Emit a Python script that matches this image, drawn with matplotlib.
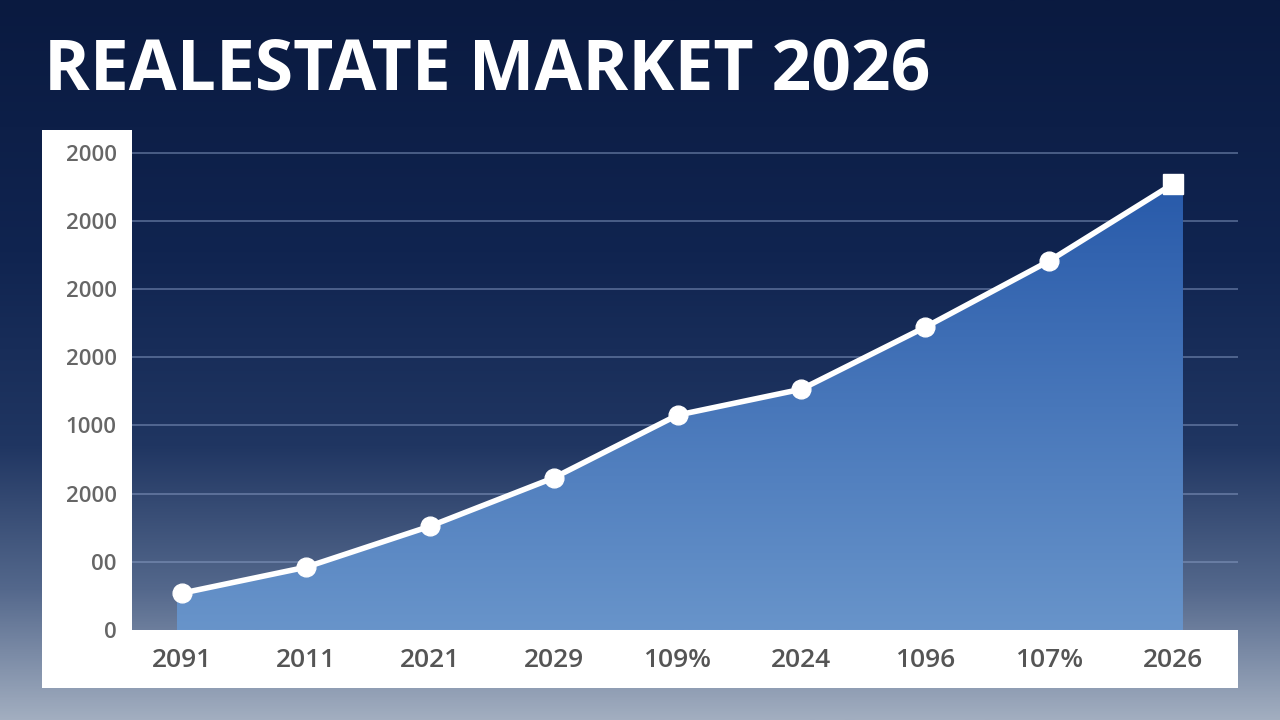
import numpy as np
import matplotlib
matplotlib.use('Agg')
import matplotlib.pyplot as plt
from matplotlib.colors import LinearSegmentedColormap
from matplotlib.patches import Rectangle, Polygon

# data
x_labels = ['2091', '2011', '2021', '2029', '109%', '2024', '1096', '107%', '2026']
values = [540, 920, 1520, 2230, 3150, 3530, 4440, 5410, 6540]
y_ticks = [0, 1000, 2000, 3000, 4000, 5000, 6000, 7000]
y_labels = ['0', '00', '2000', '1000', '2000', '2000', '2000', '2000']

W, H = 1280, 720
fig = plt.figure(figsize=(12.8, 7.2), dpi=100)

# background gradient
bg = fig.add_axes([0, 0, 1, 1])
bg_cmap = LinearSegmentedColormap.from_list('bg', [
    (0.0, (10/255, 26/255, 64/255)),
    (0.35, (16/255, 36/255, 80/255)),
    (0.62, (32/255, 54/255, 98/255)),
    (0.82, (84/255, 104/255, 140/255)),
    (1.0, (162/255, 174/255, 192/255))])
grad = np.linspace(0, 1, 256).reshape(-1, 1)
bg.imshow(grad, aspect='auto', cmap=bg_cmap, extent=[0, 1, 1, 0])
bg.set_xlim(0, 1)
bg.set_ylim(1, 0)
bg.axis('off')

# white L-shaped panel
def px_rect(x0, y0, x1, y1):
    return Rectangle((x0 / W, 1 - y1 / H), (x1 - x0) / W, (y1 - y0) / H,
                     transform=fig.transFigure, facecolor='white', edgecolor='none', zorder=1)

fig.add_artist(px_rect(42, 130, 132, 688))
fig.add_artist(px_rect(42, 630, 1238, 688))

# title
fig.text(44 / W, 1 - 72 / H, 'REALESTATE MARKET 2026', color='white', fontsize=50,
         fontweight='bold', family='Open Sans', va='center', ha='left')

# main plot
ax = fig.add_axes([132 / W, 1 - 630 / H, (1238 - 132) / W, (630 - 130) / H])
ax.patch.set_alpha(0)
ax.set_zorder(2)
xs = np.arange(len(values))
ax.set_xlim(-0.403, 8.524)
ax.set_ylim(0, 7330)

for t in y_ticks[1:]:
    ax.axhline(t, color=(140/255, 160/255, 200/255), lw=1.1, alpha=0.6, zorder=1)

# gradient fill under the line
fill_cmap = LinearSegmentedColormap.from_list('fill', [
    (0.0, (104/255, 148/255, 202/255)),
    (1.0, (40/255, 90/255, 170/255))])
poly_x = [-0.04] + list(xs) + [8.08, 8.08, -0.04]
poly_y = [values[0]] + values + [values[-1], 0, 0]
poly = Polygon(np.column_stack([poly_x, poly_y]), closed=True, facecolor='none',
               edgecolor='none')
ax.add_patch(poly)
im = ax.imshow(np.linspace(0, 1, 256).reshape(-1, 1), aspect='auto', cmap=fill_cmap,
               extent=[-0.04, 8.08, 0, max(values)], origin='lower', zorder=2)
im.set_clip_path(poly)

ax.plot(xs, values, color='white', lw=4, zorder=3, solid_capstyle='round')
ax.plot(xs[:-1], values[:-1], 'o', color='white', markersize=13.5, zorder=4)
ax.plot(xs[-1], values[-1], 's', color='white', markersize=15, zorder=4)

ax.set_xticks(xs)
ax.set_xticklabels(x_labels, fontsize=19, color='#555555', fontweight='semibold',
                   family='Open Sans')
ax.set_yticks(y_ticks)
ax.set_yticklabels(y_labels, fontsize=16, color='#666666', fontweight='semibold',
                   family='Open Sans')
ax.tick_params(axis='x', length=0, pad=13)
ax.tick_params(axis='y', length=0, pad=11)
for s in ax.spines.values():
    s.set_visible(False)

fig.savefig('out.png', dpi=100)
